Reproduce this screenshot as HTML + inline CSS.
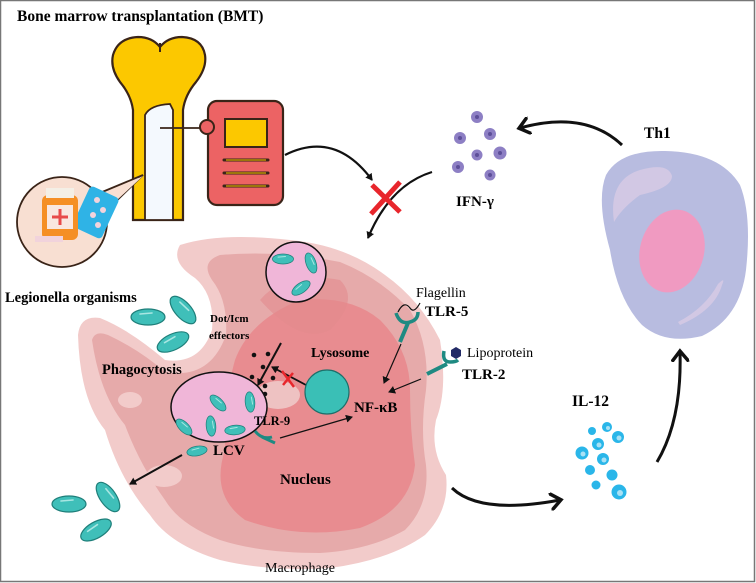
<!DOCTYPE html>
<html><head><meta charset="utf-8"><style>
html,body{margin:0;padding:0;background:#fff}
svg{display:block}
text{font-family:"Liberation Serif",serif}
.b{font-weight:bold}
</style></head><body>
<svg width="756" height="583" viewBox="0 0 756 583" xmlns="http://www.w3.org/2000/svg">
<defs>
<marker id="ah" markerWidth="8" markerHeight="8" refX="6" refY="4" orient="auto" markerUnits="userSpaceOnUse"><path d="M0,0 L7,4 L0,8 Z" fill="#111"/></marker>
<marker id="bh" markerWidth="18" markerHeight="18" refX="10" refY="9" orient="auto" markerUnits="userSpaceOnUse"><path d="M1,1 L11,9 L1,17" fill="none" stroke="#111" stroke-width="3.5" stroke-linecap="round"/></marker>
<g id="bac"><ellipse rx="17" ry="8" fill="#3fbfb9" stroke="#1f7f7a" stroke-width="1.2"/><path d="M-8,-3 L4,-4" stroke="#a8e6e2" stroke-width="1.6" stroke-linecap="round"/></g>
</defs>
<rect x="0.5" y="0.5" width="754" height="581" fill="#fff" stroke="#777" stroke-width="1.5"/>

<text x="17" y="21" class="b" font-size="15.5">Bone marrow transplantation (BMT)</text>

<!-- bone -->
<path d="M133,220 L133,110 Q131,95 120,82 Q110,68 113,55 Q118,38 138,37 Q152,37 160,47 Q168,37 182,37 Q202,38 205,55 Q207,68 196,82 Q185,95 183,110 L183,220 Z" fill="#fcc800" stroke="#3a2418" stroke-width="2.2"/>
<path d="M145,220 L145,115 Q150,105 170,104 L173,110 L173,220 Z" fill="#f4f9fe" stroke="#3a2418" stroke-width="1.8"/>
<line x1="160" y1="43" x2="160" y2="52" stroke="#3a2418" stroke-width="2"/>
<line x1="160" y1="128" x2="200" y2="128" stroke="#3a2418" stroke-width="1.8"/>
<!-- device -->
<rect x="208" y="101" width="75" height="104" rx="9" fill="#ec6364" stroke="#3a2418" stroke-width="2.2"/>
<circle cx="207" cy="127" r="7" fill="#ec6364" stroke="#3a2418" stroke-width="2"/>
<rect x="225" y="119" width="42" height="28" fill="#fcc800" stroke="#3a2418" stroke-width="2"/>
<g stroke="#3a2418" stroke-width="3" stroke-linecap="round"><line x1="224" y1="160" x2="268" y2="160"/><line x1="224" y1="173" x2="268" y2="173"/><line x1="224" y1="186" x2="268" y2="186"/></g>
<g stroke="#fcc800" stroke-width="1"><line x1="226" y1="160" x2="266" y2="160"/><line x1="226" y1="173" x2="266" y2="173"/><line x1="226" y1="186" x2="266" y2="186"/></g>
<!-- pills bubble -->
<path d="M95,195 L143,175 L102,215 Z" fill="#f8dfd2" stroke="#3a2418" stroke-width="1.8"/>
<circle cx="62" cy="222" r="45" fill="#f8dfd2" stroke="#3a2418" stroke-width="1.8"/>
<path d="M98,197 L143,176 L104,212" fill="#f8dfd2"/>
<rect x="80" y="190" width="32" height="45" rx="4" fill="#2fb3e6" transform="rotate(25 96 212)"/>
<g fill="#f3d3dc"><circle cx="97" cy="200" r="3"/><circle cx="103" cy="210" r="3"/><circle cx="93" cy="215" r="3"/><circle cx="98" cy="225" r="3"/></g>
<rect x="42" y="195" width="36" height="45" rx="6" fill="#f58f25"/>
<rect x="46" y="188" width="28" height="10" fill="#f4efe6"/>
<rect x="47" y="205" width="26" height="24" fill="#f9e7e0"/>
<path d="M60,209 V225 M52,217 H68" stroke="#e84a4a" stroke-width="3"/>
<rect x="35" y="236" width="28" height="6" fill="#f1d3dc"/>

<!-- arrows top -->
<path d="M285,155 Q335,130 372,180" fill="none" stroke="#111" stroke-width="2.2" marker-end="url(#ah)"/>
<path d="M432,172 Q390,185 368,238" fill="none" stroke="#111" stroke-width="2.2" marker-end="url(#ah)"/>
<path d="M372,185 L400,212 M400,182 L371,214" stroke="#e8262c" stroke-width="5"/>
<path d="M622,145 Q585,110 520,128" fill="none" stroke="#111" stroke-width="3" marker-end="url(#bh)"/>

<!-- IFN -->
<g fill="#8d7fc4"><circle cx="477" cy="117" r="6"/><circle cx="460" cy="138" r="6"/><circle cx="490" cy="134" r="6"/><circle cx="477" cy="155" r="5.5"/><circle cx="500" cy="153" r="6.5"/><circle cx="458" cy="167" r="6"/><circle cx="490" cy="175" r="5.5"/></g>
<g fill="#5d4f99"><circle cx="477" cy="117" r="2"/><circle cx="460" cy="138" r="2"/><circle cx="490" cy="134" r="2"/><circle cx="477" cy="155" r="2"/><circle cx="500" cy="153" r="2"/><circle cx="458" cy="167" r="2"/><circle cx="490" cy="175" r="2"/></g>
<text x="456" y="206" class="b" font-size="15">IFN-γ</text>

<!-- Th1 -->
<text x="644" y="138" class="b" font-size="15.5">Th1</text>
<path d="M665,151 Q720,152 740,185 Q752,215 746,270 Q740,318 702,336 Q665,345 642,325 Q618,300 610,250 Q596,200 606,175 Q620,150 665,151 Z" fill="#b8bce0"/>
<path d="M614,222 Q608,180 640,170 Q668,162 672,176 Q672,188 640,195 Q622,208 614,222 Z" fill="#d2c8e4"/>
<path d="M680,325 Q715,310 722,285 Q726,276 718,284 Q705,308 678,322 Z" fill="#d2c8e4"/>
<ellipse cx="672" cy="251" rx="32" ry="42" transform="rotate(15 672 251)" fill="#f09ac1"/>

<!-- IL-12 -->
<text x="572" y="406" class="b" font-size="15.5">IL-12</text>
<g fill="#2ab6e9"><circle cx="607" cy="427" r="5"/><circle cx="592" cy="431" r="4"/><circle cx="618" cy="437" r="6"/><circle cx="598" cy="444" r="6"/><circle cx="582" cy="453" r="6.5"/><circle cx="603" cy="459" r="6"/><circle cx="590" cy="470" r="5"/><circle cx="612" cy="475" r="5.5"/><circle cx="596" cy="485" r="4.5"/><circle cx="619" cy="492" r="7.5"/></g>
<g fill="#a9e1f5"><circle cx="608" cy="428" r="2"/><circle cx="619" cy="438" r="2.5"/><circle cx="599" cy="445" r="2.5"/><circle cx="583" cy="454" r="2.5"/><circle cx="604" cy="460" r="2.5"/><circle cx="620" cy="493" r="3"/></g>
<path d="M657,462 Q682,420 680,352" fill="none" stroke="#111" stroke-width="3" marker-end="url(#bh)"/>
<path d="M452,488 Q480,515 560,500" fill="none" stroke="#111" stroke-width="3" marker-end="url(#bh)"/>

<!-- macrophage -->
<path d="M78,335 Q80,315 100,318 Q130,330 165,360 Q200,365 212,330 Q215,295 195,278 Q170,262 180,245 Q220,232 290,240 Q345,245 385,275 Q420,300 440,340 Q448,390 436,420 Q430,450 446,475 Q450,510 425,535 Q390,560 330,568 Q270,572 220,560 Q170,545 150,515 Q120,480 105,430 Q80,400 78,335 Z" fill="#f2cbca"/>
<path d="M92,340 Q95,330 108,335 Q140,350 165,372 Q210,380 226,335 Q228,300 212,280 Q200,262 220,255 Q280,250 340,262 Q380,278 410,310 Q430,345 426,390 Q420,430 426,465 Q430,505 405,530 Q370,550 320,553 Q260,553 220,540 Q180,525 165,500 Q140,465 125,425 Q100,395 92,340 Z" fill="#e6aaaa"/>
<path d="M235,360 Q250,320 300,300 Q350,295 380,320 Q410,350 410,390 Q410,430 415,465 Q410,510 360,528 Q300,540 245,520 Q210,495 225,450 Q225,395 235,360 Z" fill="#e88c90"/>
<path d="M260,300 Q285,270 340,280 Q360,300 330,330 Q300,345 260,300 Z" fill="#e28a8e" opacity="0.6"/>
<ellipse cx="130" cy="400" rx="12" ry="8" fill="#f2cbca"/>
<ellipse cx="164" cy="476" rx="18" ry="11" fill="#f2cbca"/>
<ellipse cx="278" cy="395" rx="22" ry="14" fill="#eec2c2"/>

<text x="5" y="302" class="b" font-size="14.5">Legionella organisms</text>
<use href="#bac" transform="translate(148,317) rotate(0)"/>
<use href="#bac" transform="translate(183,310) rotate(48)"/>
<use href="#bac" transform="translate(173,342) rotate(-25)"/>
<text x="102" y="374" class="b" font-size="14.5">Phagocytosis</text>
<use href="#bac" transform="translate(69,504) rotate(0)"/>
<use href="#bac" transform="translate(108,497) rotate(55)"/>
<use href="#bac" transform="translate(96,530) rotate(-30)"/>

<!-- upper vesicle -->
<circle cx="296" cy="272" r="30" fill="#f0b6d8" stroke="#111" stroke-width="1.5"/>
<use href="#bac" transform="translate(283,259) scale(0.62)"/>
<use href="#bac" transform="translate(311,263) rotate(70) scale(0.62)"/>
<use href="#bac" transform="translate(301,288) rotate(-35) scale(0.62)"/>
<text x="210" y="322" class="b" font-size="11">Dot/Icm</text>
<text x="209" y="339" class="b" font-size="11">effectors</text>
<g fill="#111"><circle cx="254" cy="355" r="2.3"/><circle cx="268" cy="354" r="2.3"/><circle cx="263" cy="367" r="2.3"/><circle cx="252" cy="377" r="2.3"/><circle cx="273" cy="378" r="2.3"/><circle cx="265" cy="386" r="2.3"/><circle cx="265" cy="394" r="2.3"/></g>
<line x1="281" y1="343" x2="258" y2="385" stroke="#111" stroke-width="2" marker-end="url(#ah)"/>
<line x1="306" y1="385" x2="272" y2="367" stroke="#111" stroke-width="1.8" marker-end="url(#ah)"/>
<path d="M282,371 L294,387 M293,373 L283,385" stroke="#e8262c" stroke-width="2.5"/>
<circle cx="327" cy="392" r="22" fill="#3abfb6" stroke="#1d6f6a" stroke-width="1.2"/>
<text x="311" y="357" class="b" font-size="14">Lysosome</text>

<!-- LCV -->
<ellipse cx="219" cy="407" rx="48" ry="35" fill="#f0b6d8" stroke="#111" stroke-width="1.5"/>
<use href="#bac" transform="translate(218,403) rotate(45) scale(0.6)"/>
<use href="#bac" transform="translate(250,402) rotate(85) scale(0.6)"/>
<use href="#bac" transform="translate(184,427) rotate(45) scale(0.6)"/>
<use href="#bac" transform="translate(211,426) rotate(85) scale(0.6)"/>
<use href="#bac" transform="translate(235,430) rotate(-5) scale(0.6)"/>
<use href="#bac" transform="translate(197,451) rotate(-10) scale(0.6)"/>
<text x="213" y="455" class="b" font-size="15">LCV</text>
<text x="254" y="425" class="b" font-size="12.5">TLR-9</text>
<path d="M255,431 Q262,440 272,437 M262,437 L275,443" fill="none" stroke="#1f8a82" stroke-width="3"/>
<line x1="182" y1="455" x2="130" y2="484" stroke="#111" stroke-width="2" marker-end="url(#ah)"/>
<line x1="280" y1="438" x2="352" y2="417" stroke="#111" stroke-width="1.2" marker-end="url(#ah)"/>
<text x="354" y="412" class="b" font-size="15">NF-κB</text>

<!-- TLR-5/2 -->
<text x="416" y="297" font-size="14">Flagellin</text>
<path d="M398,312 Q404,300 410,308 Q414,314 420,303" fill="none" stroke="#111" stroke-width="1.2"/>
<path d="M396,313 Q400,325 410,322 Q418,320 418,312" fill="none" stroke="#1f8a82" stroke-width="3.5"/>
<line x1="408" y1="323" x2="400" y2="342" stroke="#1f8a82" stroke-width="4"/>
<text x="425" y="316" class="b" font-size="15">TLR-5</text>
<line x1="401" y1="344" x2="384" y2="383" stroke="#111" stroke-width="1.2" marker-end="url(#ah)"/>
<polygon points="456,347 461,350 461,356 456,359 451,356 451,350" fill="#222a66"/>
<path d="M444,351 Q442,362 450,362 Q456,362 458,360" fill="none" stroke="#1f8a82" stroke-width="3.5"/>
<line x1="447" y1="364" x2="427" y2="374" stroke="#1f8a82" stroke-width="4"/>
<text x="467" y="357" font-size="14">Lipoprotein</text>
<text x="462" y="379" class="b" font-size="15">TLR-2</text>
<line x1="421" y1="379" x2="389" y2="392" stroke="#111" stroke-width="1.2" marker-end="url(#ah)"/>

<text x="280" y="484" class="b" font-size="15">Nucleus</text>
<text x="265" y="572" font-size="14">Macrophage</text>
</svg>
</body></html>
